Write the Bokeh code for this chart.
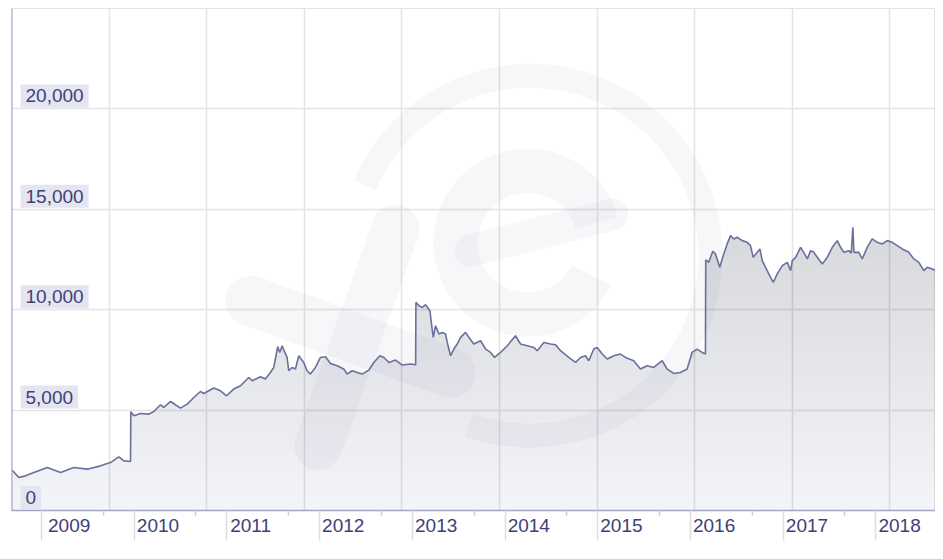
from datetime import datetime
from bokeh.plotting import figure
from bokeh.models import Range1d, FixedTicker, Label, Span
from bokeh.embed import file_html
from bokeh.resources import INLINE

# ---- data (decimal year, rate) ----
year_pos = [
    2008.684, 2008.755, 2008.827, 2008.917, 2009.061, 2009.205, 2009.348, 2009.493, 2009.636, 2009.744,
    2009.834, 2009.888, 2009.960, 2009.963, 2009.996, 2010.068, 2010.158, 2010.211, 2010.284, 2010.319,
    2010.392, 2010.499, 2010.572, 2010.643, 2010.715, 2010.751, 2010.859, 2010.931, 2010.996, 2011.074,
    2011.147, 2011.236, 2011.273, 2011.362, 2011.416, 2011.470, 2011.506, 2011.549, 2011.571, 2011.597,
    2011.621, 2011.650, 2011.668, 2011.704, 2011.740, 2011.776, 2011.801, 2011.830, 2011.866, 2011.902,
    2011.956, 2012.010, 2012.064, 2012.118, 2012.190, 2012.261, 2012.298, 2012.352, 2012.406, 2012.460,
    2012.531, 2012.585, 2012.649, 2012.693, 2012.747, 2012.819, 2012.891, 2012.981, 2013.035, 2013.038,
    2013.070, 2013.107, 2013.142, 2013.189, 2013.204, 2013.225, 2013.250, 2013.286, 2013.323, 2013.358,
    2013.376, 2013.412, 2013.448, 2013.484, 2013.520, 2013.574, 2013.610, 2013.663, 2013.736, 2013.790,
    2013.844, 2013.887, 2013.951, 2014.024, 2014.113, 2014.167, 2014.240, 2014.311, 2014.347, 2014.419,
    2014.491, 2014.545, 2014.599, 2014.688, 2014.761, 2014.814, 2014.868, 2014.904, 2014.958, 2014.995,
    2015.049, 2015.103, 2015.174, 2015.246, 2015.300, 2015.389, 2015.462, 2015.534, 2015.605, 2015.696,
    2015.750, 2015.821, 2015.893, 2015.966, 2016.019, 2016.073, 2016.127, 2016.163, 2016.166, 2016.198,
    2016.242, 2016.271, 2016.317, 2016.360, 2016.397, 2016.433, 2016.468, 2016.505, 2016.559, 2016.613,
    2016.648, 2016.677, 2016.721, 2016.749, 2016.775, 2016.810, 2016.864, 2016.893, 2016.936, 2016.990,
    2017.044, 2017.080, 2017.098, 2017.134, 2017.188, 2017.231, 2017.260, 2017.296, 2017.331, 2017.368,
    2017.422, 2017.476, 2017.530, 2017.584, 2017.619, 2017.655, 2017.709, 2017.735, 2017.752, 2017.763,
    2017.817, 2017.853, 2017.907, 2017.961, 2018.015, 2018.069, 2018.123, 2018.177, 2018.231, 2018.285,
    2018.356, 2018.410, 2018.464, 2018.518, 2018.555, 2018.609, 2018.644,
]
rate = [
    2009, 1640, 1725, 1889, 2139, 1889, 2139, 2059, 2223, 2388,
    2672, 2473, 2438, 4915, 4716, 4831, 4800, 4930, 5264, 5130,
    5430, 5100, 5300, 5628, 5927, 5828, 6097, 5962, 5713, 6047,
    6211, 6625, 6460, 6660, 6545, 6874, 7124, 8155, 7871, 8205,
    7921, 7622, 6959, 7124, 7043, 7707, 7542, 7373, 6959, 6794,
    7124, 7622, 7657, 7323, 7208, 7043, 6794, 6959, 6874, 6794,
    6994, 7373, 7707, 7622, 7373, 7493, 7243, 7293, 7258, 10364,
    10200, 10115, 10250, 9950, 9367, 8620, 9202, 8788, 8868, 8788,
    8370, 7707, 8041, 8290, 8620, 8868, 8620, 8290, 8455, 8041,
    7871, 7622, 7871, 8205, 8704, 8290, 8205, 8121, 7956, 8370,
    8290, 8255, 7956, 7622, 7373, 7622, 7707, 7458, 8041, 8121,
    7792, 7542, 7707, 7792, 7622, 7458, 7043, 7208, 7124, 7458,
    7043, 6825, 6874, 7043, 7871, 8041, 7871, 7792, 12478, 12360,
    12908, 12777, 12110, 12777, 13276, 13690, 13524, 13607, 13440, 13355,
    13190, 12608, 12857, 13025, 12442, 12110, 11610, 11361, 11780, 12193,
    12360, 11944, 12442, 12608, 13107, 12777, 12527, 12941, 12857, 12608,
    12278, 12608, 13107, 13440, 13107, 12857, 12941, 12820, 14103, 12857,
    12857, 12527, 13107, 13524, 13355, 13276, 13440, 13355, 13190, 13025,
    12857, 12527, 12360, 11944, 12110, 12027, 11944,
]

y_ticks = [0, 5000, 10000, 15000, 20000]
y_tick_labels = ["0", "5,000", "10,000", "15,000", "20,000"]
x_years = [2009, 2010, 2011, 2012, 2013, 2014, 2015, 2016, 2017, 2018]
x_tick_labels = ["2009", "2010", "2011", "2012", "2013", "2014", "2015", "2016", "2017", "2018"]

# ---- helpers ----
def to_dt(t):
    y = int(t // 1)
    a = datetime(y, 1, 1)
    b = datetime(y + 1, 1, 1)
    return a + (b - a) * (t - y)

def ms(d):
    return (d - datetime(1970, 1, 1)).total_seconds() * 1000.0

xs = [to_dt(t) for t in year_pos]

X0, X1 = 2008.676, 2018.644
x_start, x_end = to_dt(X0), to_dt(X1)
Y0, Y1 = 0, 25000

TEXT = "#3d4177"
FONT = "Liberation Sans"

p = figure(width=935, height=550, x_axis_type="datetime",
           x_range=Range1d(x_start, x_end), y_range=Range1d(Y0, Y1),
           output_backend="svg", toolbar_location=None,
           min_border_left=11, min_border_right=0, min_border_top=8,
           min_border_bottom=40)
p.background_fill_color = "white"
p.border_fill_color = "white"
p.outline_line_color = "#e2e2e2"

# grids
p.ygrid.ticker = FixedTicker(ticks=y_ticks)
p.ygrid.grid_line_color = "#e4e4e4"
p.ygrid.grid_line_width = 1.5
grid_step = 1.0529  # years between vertical grid lines (layout)
p.xgrid.ticker = FixedTicker(ticks=[ms(to_dt(X0 + k * grid_step)) for k in range(1, 10)])
p.xgrid.grid_line_color = "#e4e4e4"
p.xgrid.grid_line_width = 1.5

# gradient-ish fill: stacked translucent layers
FILL = "#8a8fb8"
p.varea(x=xs, y1=[0] * len(rate), y2=rate, fill_color=FILL, fill_alpha=0.10)
for lvl in range(500, 14000, 500):
    p.varea(x=xs, y1=[min(v, lvl) for v in rate], y2=rate, fill_color=FILL, fill_alpha=0.0125)

# faint watermark (layout in frame pixels -> data)
def wx(px):
    return to_dt(X0 + (px - 11) / 92.7)

def wy(py):
    return (509.6 - py) * (5000 / 100.3)

WM = "#5a5f95"
p.arc(x=[wx(530)], y=[wy(255)], radius=180, radius_units="screen",
      start_angle=-1.92, end_angle=2.74, line_color=WM, line_alpha=0.05, line_width=24)
p.arc(x=[wx(527)], y=[wy(242)], radius=72, radius_units="screen",
      start_angle=0.28, end_angle=5.81, line_color=WM, line_alpha=0.05, line_width=44)
p.segment(x0=[wx(470), wx(250), wx(395)], y0=[wy(250), wy(300), wy(228)],
          x1=[wx(612), wx(450), wx(318)], y1=[wy(214), wy(372), wy(445)],
          line_color=WM, line_alpha=0.05, line_width=[32, 50, 48], line_cap="round")

# the rate line
p.line(xs, rate, line_color="#6b6f9c", line_width=1.6)

# left border
p.add_layout(Span(location=ms(x_start), dimension="height", line_color="#9ea1c6", line_width=2))

# y tick labels inside the frame
p.yaxis.visible = False
for v, lab in zip(y_ticks, y_tick_labels):
    p.add_layout(Label(x=ms(x_start), y=v, text=lab, x_offset=9, y_offset=13,
                       text_font=FONT, text_font_size="19px", text_color=TEXT,
                       text_align="left", text_baseline="middle",
                       background_fill_color="#e4e5f0", padding=dict(x=5, y=5)))

# x axis
PAD = "\u00a0" * 9
xa = p.xaxis[0]
xa.ticker = FixedTicker(ticks=[ms(datetime(y, 1, 1)) for y in x_years],
                        minor_ticks=[ms(datetime(y, 9, 1)) for y in [2008] + x_years])
xa.major_label_overrides = {ms(datetime(y, 1, 1)): PAD + lab
                            for y, lab in zip(x_years, x_tick_labels)}
xa.axis_line_color = "#a2a5c7"
xa.axis_line_width = 1.5
xa.major_tick_in = 0
xa.major_tick_out = 30
xa.major_tick_line_color = "#dedede"
xa.major_tick_line_width = 1.5
xa.minor_tick_in = 0
xa.minor_tick_out = 5
xa.minor_tick_line_color = "#c9cad8"
xa.minor_tick_line_width = 1.5
xa.major_label_standoff = -26
xa.major_label_text_font = FONT
xa.major_label_text_font_size = "19px"
xa.major_label_text_color = TEXT

open("out.html", "w").write(file_html(p, INLINE))
